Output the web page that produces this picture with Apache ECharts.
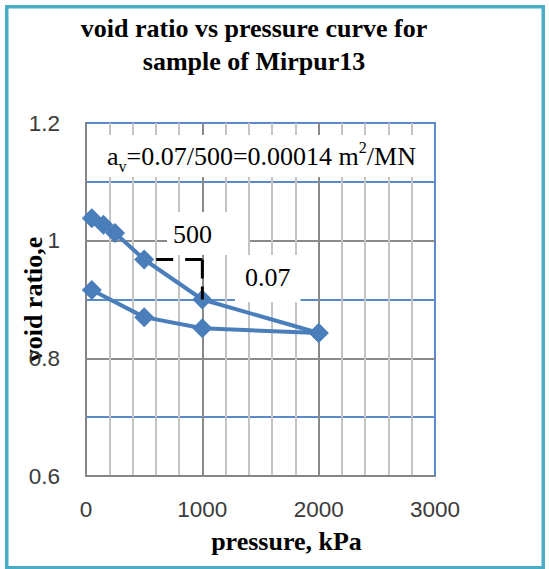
<!DOCTYPE html>
<html>
<head>
<meta charset="utf-8">
<script src="https://cdn.jsdelivr.net/npm/echarts@6/dist/echarts.min.js"></script>
<style>
  html, body { margin: 0; padding: 0; background: #fff; }
  #chart { width: 549px; height: 569px; }
</style>
</head>
<body>
<div id="chart"></div>
<script>
// Consolidation test, Mirpur13 sample: void ratio against applied pressure
const pressureLoading   = [50, 150, 250, 500, 1000, 2000];      // kPa
const voidLoading       = [1.038, 1.027, 1.013, 0.968, 0.900, 0.843];
const pressureUnloading = [2000, 1000, 500, 50];                 // kPa
const voidUnloading     = [0.843, 0.851, 0.870, 0.916];

const xTickValues = [0, 1000, 2000, 3000];
const xTickLabels = ['0', '1000', '2000', '3000'];
const yTickValues = [0.6, 0.8, 1.0, 1.2];
const yTickLabels = ['0.6', '0.8', '1', '1.2'];

const BLUE = '#4a7ebb';
const SERIF = '"Liberation Serif", "Times New Roman", serif';
const SANS = '"Liberation Sans", Arial, sans-serif';

function zip(xs, ys) { return xs.map((x, i) => [x, ys[i]]); }
function tickLabel(values, labels) {
  return v => {
    const i = values.findIndex(t => Math.abs(t - v) < 1e-6);
    return i >= 0 ? labels[i] : '';
  };
}

// slope triangle between the 500 and 1000 kPa points (run, then drop)
const e500 = voidLoading[pressureLoading.indexOf(500)];
const e1000 = voidLoading[pressureLoading.indexOf(1000)];
const slopeRun  = [[500, e500], [1000, e500]];
const slopeDrop = [[1000, e500], [1000, e1000]];

const chart = echarts.init(document.getElementById('chart'), null, { renderer: 'svg' });

chart.setOption({
  animation: false,
  backgroundColor: '#fff',
  title: {
    text: 'void ratio vs pressure curve for\nsample of Mirpur13',
    left: 249,
    top: 7,
    textAlign: 'center',
    textStyle: { fontFamily: SERIF, fontWeight: 'bold', fontSize: 26, lineHeight: 33, color: '#000' }
  },
  grid: {
    left: 86, right: 114, top: 123, bottom: 93,
    outerBoundsMode: 'none', containLabel: false,
    show: true, backgroundColor: 'transparent', borderColor: '#5b8acb', borderWidth: 2
  },
  xAxis: {
    type: 'value', min: 0, max: 3000, interval: 1000,
    name: 'pressure, kPa', nameLocation: 'middle', nameGap: 52, nameMoveOverlap: false,
    nameTextStyle: { fontFamily: SERIF, fontWeight: 'bold', fontSize: 26, color: '#000', padding: [0, 0, 0, 52] },
    axisLine: { show: true, lineStyle: { color: '#868686', width: 2 } },
    axisTick: { show: false },
    axisLabel: { margin: 22, fontFamily: SANS, fontSize: 22.5, color: '#3a3a3a',
                 formatter: tickLabel(xTickValues, xTickLabels) },
    splitLine: { show: true, showMaxLine: false, lineStyle: { color: '#8a8a8a', width: 2 } },
    minorTick: { show: false, splitNumber: 5 },
    minorSplitLine: { show: true, lineStyle: { color: '#c4c4c4', width: 2 } }
  },
  yAxis: {
    type: 'value', min: 0.6, max: 1.2, interval: 0.2,
    name: 'void ratio,e', nameLocation: 'middle', nameGap: 40, nameMoveOverlap: false,
    nameTextStyle: { fontFamily: SERIF, fontWeight: 'bold', fontSize: 26, color: '#000' },
    axisLine: { show: true, lineStyle: { color: '#868686', width: 2 } },
    axisTick: { show: false },
    axisLabel: { margin: 26, fontFamily: SANS, fontSize: 22.5, color: '#3a3a3a',
                 formatter: tickLabel(yTickValues, yTickLabels) },
    splitLine: { show: true, showMaxLine: false, lineStyle: { color: '#8a8a8a', width: 2 } },
    minorTick: { show: false, splitNumber: 2 },
    minorSplitLine: { show: true, lineStyle: { color: '#5b8acb', width: 2 } }
  },
  graphic: [
    {
      type: 'rect', z: 0, silent: true,
      shape: { x: 6.75, y: 6.75, width: 536.5, height: 561 },
      style: { fill: 'none', stroke: '#4bacc6', lineWidth: 3.5 }
    },
    {
      type: 'text', z: 1, left: 100, top: 135, silent: true,
      style: {
        text: 'a{sub|v}=0.07/500=0.00014 m{sup|2}/MN',
        fontFamily: SERIF, fontSize: 26, lineHeight: 30, fill: '#000',
        backgroundColor: '#fff', padding: [6, 8, 6, 7],
        rich: {
          sub: { fontFamily: SERIF, fontSize: 16, lineHeight: 30, verticalAlign: 'bottom', fill: '#000', padding: [0, 0, -3, 0] },
          sup: { fontFamily: SERIF, fontSize: 16, lineHeight: 30, verticalAlign: 'top', fill: '#000', padding: [-2, 0, 0, 0] }
        }
      }
    },
    {
      type: 'text', z: 1, left: 167, top: 212, silent: true,
      style: {
        text: '500', fontFamily: SERIF, fontSize: 26, lineHeight: 30, fill: '#000',
        backgroundColor: '#fff', padding: [7, 36, 6, 6]
      }
    },
    {
      type: 'text', z: 1, left: 235, top: 255, silent: true,
      style: {
        text: '0.07', fontFamily: SERIF, fontSize: 26, lineHeight: 30, fill: '#000',
        backgroundColor: '#fff', padding: [7, 10, 10, 10]
      }
    }
  ],
  series: [
    {
      name: 'loading', type: 'line', z: 3,
      data: zip(pressureLoading, voidLoading),
      symbol: 'diamond', symbolSize: 20,
      lineStyle: { color: BLUE, width: 4 },
      itemStyle: { color: BLUE }
    },
    {
      name: 'unloading', type: 'line', z: 3,
      data: zip(pressureUnloading, voidUnloading),
      symbol: 'diamond', symbolSize: 20,
      lineStyle: { color: BLUE, width: 4 },
      itemStyle: { color: BLUE }
    },
    {
      name: 'slope run', type: 'line', z: 5,
      data: slopeRun, symbol: 'none',
      lineStyle: { color: '#000', width: 3, type: [17, 12], dashOffset: 17 }
    },
    {
      name: 'slope drop', type: 'line', z: 5,
      data: slopeDrop, symbol: 'none',
      lineStyle: { color: '#000', width: 3, type: [19, 8], dashOffset: 0 }
    }
  ]
});
</script>
</body>
</html>
